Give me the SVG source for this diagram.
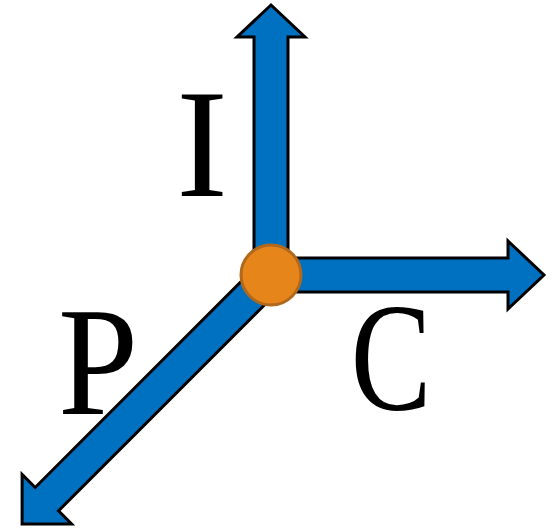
<svg xmlns="http://www.w3.org/2000/svg" width="554" height="529" viewBox="0 0 554 529">
<style>
.arrow{fill:#0070C0;stroke:#000;stroke-width:3;stroke-linejoin:miter}
.lbl{font-family:"Liberation Serif","Times New Roman",serif;font-size:155px;fill:#000;text-anchor:middle}
</style>
<rect width="554" height="529" fill="#fff"/>
<g id="connectors">
<g id="arrow-P"><polygon class="arrow" transform="translate(271,275) rotate(135)" points="0,-16.5 317,-16.5 317,-35 352,0 317,35 317,16.5 0,16.5"/></g>
<g id="arrow-I"><polygon class="arrow" points="254,275 254,37 237,37 271,5 305,37 288,37 288,275"/></g>
<g id="arrow-C"><polygon class="arrow" points="271,258 508,258 508,241 544,275 508,309 508,292 271,292"/></g>
</g>
<g id="center"><circle cx="271" cy="275" r="30" fill="#E5851A" stroke="#B0681C" stroke-width="3"/></g>
<g id="label-I"><text class="lbl" x="202" y="196">I</text></g>
<g id="label-C"><text class="lbl" transform="translate(391,409) scale(0.78,1)">C</text></g>
<g id="label-P"><text class="lbl" transform="translate(98,414) scale(0.93,1)">P</text></g>
</svg>
